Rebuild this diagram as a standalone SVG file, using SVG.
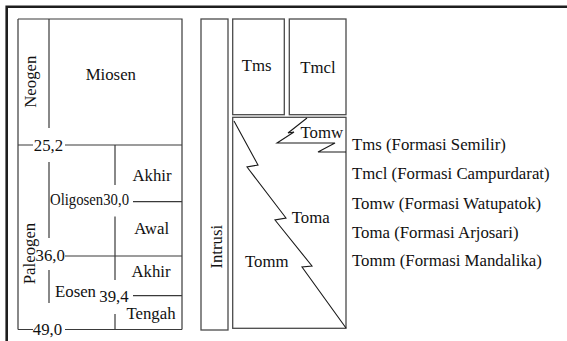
<svg xmlns="http://www.w3.org/2000/svg" width="567" height="341" viewBox="0 0 567 341">
<style>
text{font-family:"Liberation Serif",Tinos,"Times New Roman",serif;font-size:16.8px;fill:#111}
.m{text-anchor:middle}
.ln{stroke:#3a3a3a;stroke-width:1.2;fill:none}
.bx{stroke:#4a4a4a;stroke-width:1.3;fill:#fff}
.zz{stroke:#1a1a1a;stroke-width:1.1;fill:none;stroke-linejoin:miter}
.frame{stroke:#1e1e1e;stroke-width:2.6;fill:none}
</style>
<rect width="567" height="341" fill="#fff"/>
<path class="frame" d="M6.7,341 V6.7 H567"/>

<g id="timescale">
  <path class="ln" d="M18,19 H182 V329.5 M18,19 V329.5"/>
  <path class="ln" d="M49,19 V128 M49,162 V238 M49,270 V303"/>
  <path class="ln" d="M18,145 H33 M65,145 H182"/>
  <path class="ln" d="M115,145 V185 M115,216.5 V280 M115,314 V329.5"/>
  <path class="ln" d="M133,201.7 H182"/>
  <path class="ln" d="M65,256 H182"/>
  <path class="ln" d="M133,295.7 H182"/>
  <path class="ln" d="M18,329.5 H33 M65,329.5 H182"/>
  <text class="m" transform="translate(35.5,81.7) rotate(-90)">Neogen</text>
  <text class="m" transform="translate(34.5,253.5) rotate(-90)">Paleogen</text>
  <text class="m" x="110.8" y="80">Miosen</text>
  <text class="m" x="48.5" y="151">25,2</text>
  <text x="50" y="204.5" textLength="79" lengthAdjust="spacingAndGlyphs">Oligosen30,0</text>
  <text class="m" x="152" y="181">Akhir</text>
  <text class="m" x="151.7" y="234">Awal</text>
  <text x="35.5" y="261">36,0</text>
  <text class="m" x="151" y="277">Akhir</text>
  <text x="55" y="297">Eosen</text>
  <text class="m" x="114" y="301.5">39,4</text>
  <text class="m" x="151" y="319">Tengah</text>
  <text class="m" x="47.5" y="335">49,0</text>
</g>

<g id="intrusi">
  <rect class="bx" x="201" y="19" width="27" height="311"/>
  <text class="m" transform="translate(221.5,246.7) rotate(-90)">Intrusi</text>
</g>

<g id="tms">
  <rect class="bx" x="232.7" y="19" width="51.6" height="95.7"/>
  <text class="m" x="256.7" y="71">Tms</text>
</g>

<g id="tmcl">
  <rect class="bx" x="289.3" y="19" width="56.7" height="95.7"/>
  <text class="m" x="318" y="73">Tmcl</text>
</g>

<g id="oligosen-units">
  <rect class="bx" x="232.7" y="117.3" width="113.3" height="211"/>
  <text x="300.5" y="138">Tomw</text>
  <text x="291.7" y="223">Toma</text>
  <text x="245" y="266.5">Tomm</text>
</g>

<g id="boundaries">
  <polyline class="zz" points="234,121 258,165 247,167 286,218 275,220 312,266 302,267 346,328"/>
  <polyline class="zz" points="307,118 288,133 294,132 277,143 335,143 318,152 346,152"/>
</g>

<g id="legend">
  <text x="352" y="149.5">Tms (Formasi Semilir)</text>
  <text x="352" y="178.5">Tmcl (Formasi Campurdarat)</text>
  <text x="352" y="208.5">Tomw (Formasi Watupatok)</text>
  <text x="352" y="237.5">Toma (Formasi Arjosari)</text>
  <text x="352" y="265.5">Tomm (Formasi Mandalika)</text>
</g>
</svg>
